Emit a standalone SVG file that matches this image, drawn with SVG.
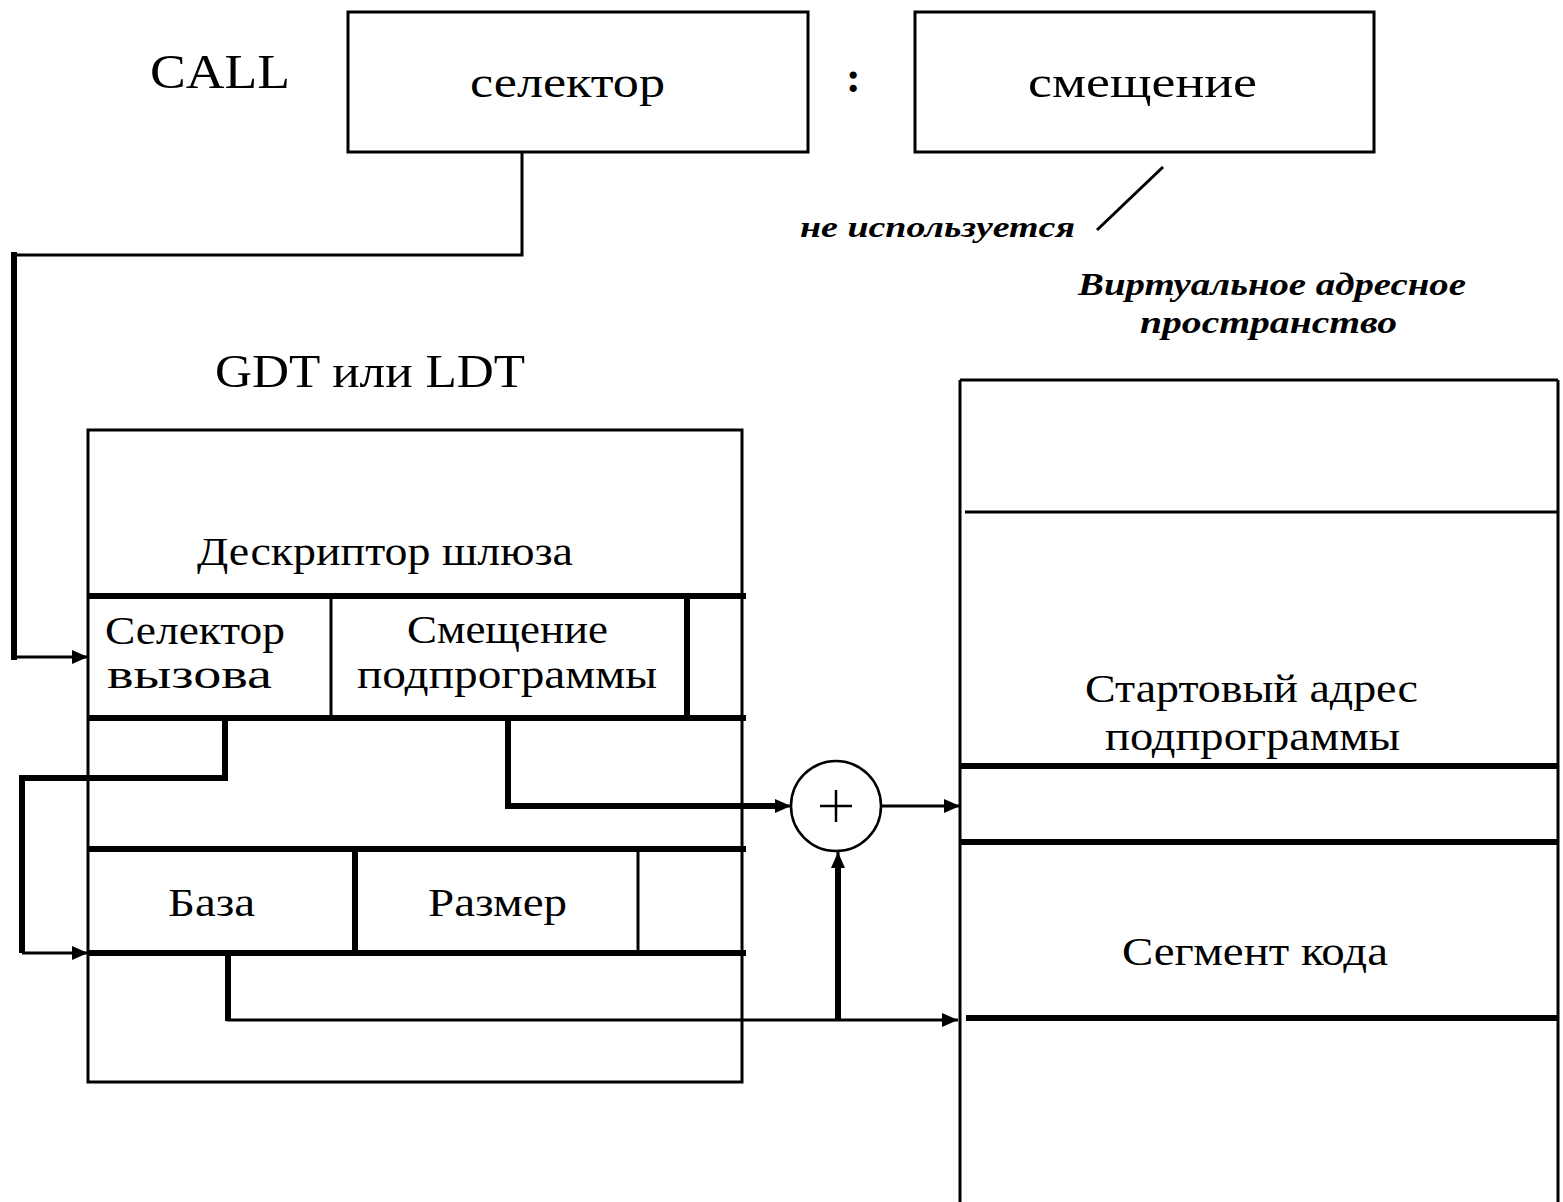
<svg xmlns="http://www.w3.org/2000/svg" width="1563" height="1202" viewBox="0 0 1563 1202">
<style>
.t{font-family:"Liberation Serif","DejaVu Serif",serif;fill:#000}
.i{font-family:"Liberation Serif","DejaVu Serif",serif;font-style:italic;font-weight:bold;fill:#000}
.thin{stroke:#000;stroke-width:3;fill:none}
.thick{stroke:#000;stroke-width:6;fill:none}
</style>
<defs>
<marker id="ah" markerUnits="userSpaceOnUse" markerWidth="18" markerHeight="16" refX="16" refY="8" orient="auto">
<path d="M0,1 L16,8 L0,15 Z" fill="#000"/>
</marker>
</defs>
<rect width="1563" height="1202" fill="#fff"/>

<g id="call-label">
<text class="t" x="150" y="88" font-size="48" textLength="140" lengthAdjust="spacingAndGlyphs">CALL</text>
</g>
<g id="selector-box">
<rect class="thin" x="348" y="12" width="460" height="140"/>
<text class="t" x="470" y="97" font-size="44" textLength="195" lengthAdjust="spacingAndGlyphs">селектор</text>
</g>
<g id="colon">
<text class="t" x="846" y="92" font-size="44" font-weight="bold">:</text>
</g>
<g id="offset-box">
<rect class="thin" x="915" y="12" width="459" height="140"/>
<text class="t" x="1028" y="97" font-size="44" textLength="229" lengthAdjust="spacingAndGlyphs">смещение</text>
</g>
<g id="unused-label">
<line class="thin" x1="1163" y1="167" x2="1097" y2="230"/>
<text class="i" x="800" y="237" font-size="30" textLength="275" lengthAdjust="spacingAndGlyphs">не используется</text>
</g>
<g id="vas-label">
<text class="i" x="1078" y="295" font-size="32" textLength="388" lengthAdjust="spacingAndGlyphs">Виртуальное адресное</text>
<text class="i" x="1140" y="333" font-size="32" textLength="257" lengthAdjust="spacingAndGlyphs">пространство</text>
</g>
<g id="gdt-label">
<text class="t" x="215" y="387" font-size="46" textLength="310" lengthAdjust="spacingAndGlyphs">GDT или LDT</text>
</g>

<g id="gdt-table">
<rect class="thin" x="88" y="430" width="654" height="652"/>
<text class="t" x="197" y="565" font-size="40" textLength="376" lengthAdjust="spacingAndGlyphs">Дескриптор шлюза</text>
<line class="thick" x1="88" y1="596" x2="746" y2="596"/>
<line class="thin" x1="331" y1="596" x2="331" y2="718"/>
<line class="thick" x1="687" y1="596" x2="687" y2="718"/>
<line class="thick" x1="88" y1="718" x2="746" y2="718"/>
<text class="t" x="105" y="644" font-size="40" textLength="180" lengthAdjust="spacingAndGlyphs">Селектор</text>
<text class="t" x="107" y="688" font-size="40" textLength="165" lengthAdjust="spacingAndGlyphs">вызова</text>
<text class="t" x="407" y="643" font-size="40" textLength="201" lengthAdjust="spacingAndGlyphs">Смещение</text>
<text class="t" x="357" y="688" font-size="40" textLength="300" lengthAdjust="spacingAndGlyphs">подпрограммы</text>
<line class="thick" x1="88" y1="849" x2="746" y2="849"/>
<line class="thick" x1="355" y1="849" x2="355" y2="953"/>
<line class="thin" x1="638" y1="849" x2="638" y2="953"/>
<line class="thick" x1="88" y1="953" x2="746" y2="953"/>
<text class="t" x="168" y="916" font-size="40" textLength="87" lengthAdjust="spacingAndGlyphs">База</text>
<text class="t" x="428" y="916" font-size="40" textLength="139" lengthAdjust="spacingAndGlyphs">Размер</text>
</g>

<g id="adder">
<circle cx="836" cy="806" r="45" fill="none" stroke="#000" stroke-width="2.5"/>
<line x1="820" y1="806" x2="852" y2="806" stroke="#000" stroke-width="2.5"/>
<line x1="836" y1="790" x2="836" y2="822" stroke="#000" stroke-width="2.5"/>
</g>

<g id="vas">
<line class="thin" x1="960" y1="380" x2="1558" y2="380"/>
<line class="thin" x1="960" y1="380" x2="960" y2="1202"/>
<line class="thin" x1="1558" y1="380" x2="1558" y2="1202"/>
<line class="thin" x1="965" y1="512" x2="1558" y2="512"/>
<text class="t" x="1085" y="702" font-size="40" textLength="333" lengthAdjust="spacingAndGlyphs">Стартовый адрес</text>
<text class="t" x="1105" y="750" font-size="40" textLength="295" lengthAdjust="spacingAndGlyphs">подпрограммы</text>
<line class="thick" x1="960" y1="766" x2="1558" y2="766"/>
<line class="thick" x1="960" y1="842" x2="1558" y2="842"/>
<text class="t" x="1122" y="965" font-size="40" textLength="266" lengthAdjust="spacingAndGlyphs">Сегмент кода</text>
<line class="thick" x1="966" y1="1018" x2="1558" y2="1018"/>
</g>

<g id="connectors">
<polyline class="thin" points="522,152 522,255 14,255"/>
<line class="thick" x1="14" y1="252" x2="14" y2="660"/>
<line class="thin" x1="14" y1="657" x2="88" y2="657" marker-end="url(#ah)"/>
<polyline class="thick" points="225,718 225,778 22,778 22,953"/>
<line class="thin" x1="22" y1="953" x2="88" y2="953" marker-end="url(#ah)"/>
<polyline class="thick" points="508,718 508,806 776,806"/>
<line class="thin" x1="770" y1="806" x2="791" y2="806" marker-end="url(#ah)"/>
<line class="thin" x1="881" y1="806" x2="960" y2="806" marker-end="url(#ah)"/>
<polyline class="thin" points="228,953 228,1020 958,1020" marker-end="url(#ah)"/>
<line class="thick" x1="228" y1="953" x2="228" y2="1021"/>
<line class="thick" x1="838" y1="1020" x2="838" y2="868"/>
<line class="thin" x1="838" y1="870" x2="838" y2="852" marker-end="url(#ah)"/>
</g>
</svg>
